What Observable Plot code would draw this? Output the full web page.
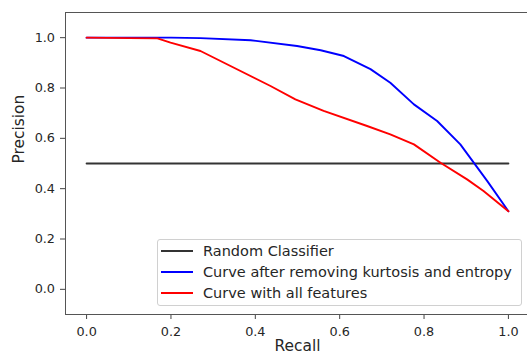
<!DOCTYPE html>
<html>
<head>
<meta charset="utf-8">
<script src="https://cdn.jsdelivr.net/npm/d3@7"></script>
<script src="https://cdn.jsdelivr.net/npm/@observablehq/plot@0.6"></script>
<style>
  html, body { margin: 0; padding: 0; background: white; overflow: hidden; }
  #wrap { position: relative; width: 527px; height: 358px; overflow: hidden; }
  #wrap svg { max-width: none !important; }
  #legend {
    position: absolute; left: 156.5px; top: 239px; width: 365px; height: 67px;
    border: 1px solid #d0d0d0; border-radius: 3px; background: rgba(255,255,255,0.8);
    box-sizing: border-box; font-family: "DejaVu Sans", sans-serif; font-size: 14.5px; color: #262626;
  }
  .row { position: absolute; left: 0; height: 20px; display: flex; align-items: center; white-space: nowrap; }
  .sw { width: 32px; height: 0; margin-left: 3.5px; margin-right: 10px; border-top: 2px solid; }
</style>
</head>
<body>
<div id="wrap"></div>
<script>
// Series names
const seriesNames = ["Random Classifier", "Curve after removing kurtosis and entropy", "Curve with all features"];
const seriesColors = ["#333333", "#0000ff", "#ff0000"];

// Random classifier
const randomRecall = [0, 1];
const randomPrecision = [0.5, 0.5];

// Curve after removing kurtosis and entropy (blue)
const blueRecall    = [0, 0.2, 0.27, 0.389, 0.499, 0.555, 0.61, 0.673, 0.72, 0.776, 0.831, 0.886, 0.95, 1.0];
const bluePrecision = [1.0, 1.0, 0.998, 0.99, 0.967, 0.95, 0.927, 0.875, 0.821, 0.735, 0.669, 0.576, 0.43, 0.31];

// Curve with all features (red)
const redRecall    = [0, 0.1, 0.168, 0.199, 0.27, 0.436, 0.495, 0.562, 0.665, 0.72, 0.776, 0.839, 0.902, 0.941, 1.0];
const redPrecision = [1.0, 0.998, 0.997, 0.98, 0.947, 0.808, 0.755, 0.709, 0.649, 0.616, 0.576, 0.503, 0.437, 0.391, 0.31];

// Ticks
const xTicks = [0, 0.2, 0.4, 0.6, 0.8, 1.0];
const yTicks = [0, 0.2, 0.4, 0.6, 0.8, 1.0];
const xLabel = "Recall";
const yLabel = "Precision";

const toRows = (xs, ys) => xs.map((x, i) => ({x, y: ys[i]}));
const series = [
  toRows(randomRecall, randomPrecision),
  toRows(blueRecall, bluePrecision),
  toRows(redRecall, redPrecision)
];

const chart = Plot.plot({
  width: 529,
  height: 358,
  marginLeft: 65,
  marginRight: 0,
  marginTop: 12,
  marginBottom: 44,
  style: {fontFamily: "DejaVu Sans, sans-serif", fontSize: "12.8px", color: "#262626", background: "white", maxWidth: "none"},
  x: {domain: [-0.05, 1.05], label: null},
  y: {domain: [-0.1, 1.1], label: null},
  marks: [
    Plot.axisX({ticks: xTicks, tickFormat: d3.format(".1f"), tickSize: 5, tickPadding: 7, label: null, stroke: "#444"}),
    Plot.axisY({ticks: yTicks, tickFormat: d3.format(".1f"), tickSize: 5, tickPadding: 5.5, label: null, stroke: "#444"}),
    ...series.map((s, i) => Plot.line(s, {x: "x", y: "y", stroke: seriesColors[i], strokeWidth: 1.9, strokeLinejoin: "round"})),
    Plot.frame({stroke: "#555"}),
    Plot.text([xLabel], {frameAnchor: "bottom", dy: 36.5, fontSize: 15.4, fill: "#262626"}),
    Plot.text([yLabel], {frameAnchor: "left", dx: -46.5, rotate: -90, fontSize: 15.4, fill: "#262626"})
  ]
});

const wrap = document.getElementById("wrap");
wrap.appendChild(chart);

const legend = document.createElement("div");
legend.id = "legend";
seriesNames.forEach((name, i) => {
  const row = document.createElement("div");
  row.className = "row";
  row.style.top = (0.5 + i * 21.2) + "px";
  const sw = document.createElement("span");
  sw.className = "sw";
  sw.style.borderTopColor = seriesColors[i];
  const t = document.createElement("span");
  t.textContent = name;
  row.appendChild(sw);
  row.appendChild(t);
  legend.appendChild(row);
});
wrap.appendChild(legend);
</script>
</body>
</html>
